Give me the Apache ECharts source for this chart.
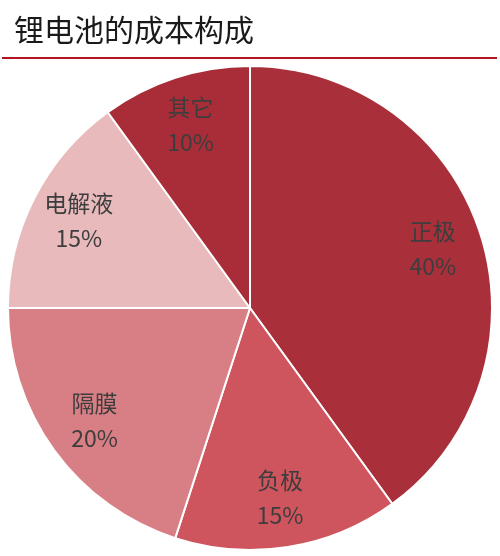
<!DOCTYPE html>
<html><head><meta charset="utf-8">
<script src="https://cdn.jsdelivr.net/npm/echarts@6/dist/echarts.min.js"></script>
<style>html,body{margin:0;padding:0;background:#fff}#c{width:500px;height:556px}</style>
</head><body><div id="c"></div>
<script>
const titleText = '锂电池的成本构成';
const categories = ['正极', '负极', '隔膜', '电解液', '其它'];
const values = [40, 15, 20, 15, 10];
const colors = ['#A9303A', '#CE545E', '#D87F85', '#E8BABC', '#A82D38'];

const CX = 250, CY = 308, R = 242;
const chart = echarts.init(document.getElementById('c'));
chart.setOption({
  backgroundColor: '#fff',
  animation: false,
  title: {
    text: titleText, left: 9, top: 10,
    textStyle: { fontFamily: 'Noto Sans CJK SC', fontSize: 30, fontWeight: 'normal', color: '#1a1a1a' }
  },
  graphic: [{
    type: 'line', shape: { x1: 2, y1: 58, x2: 497, y2: 58 },
    style: { stroke: '#B3141F', lineWidth: 2 }
  }],
  series: [{
    type: 'pie',
    center: [CX, CY],
    radius: R,
    startAngle: 90,
    clockwise: true,
    data: categories.map((n, i) => ({ name: n, value: values[i], itemStyle: { color: colors[i] } })),
    itemStyle: { borderColor: '#fff', borderWidth: 2 },
    label: {
      show: true, position: 'inside',
      formatter: p => p.name + '\n' + p.value + '%',
      fontFamily: 'Noto Sans CJK SC', fontSize: 23, lineHeight: 35, color: '#3d3d3d'
    },
    labelLine: { show: false },
    labelLayout: function (p) {
      const r = p.labelRect;
      const lx = r.x + r.width / 2, ly = r.y + r.height / 2;
      return { dx: (lx - CX) * 0.55, dy: (ly - CY) * 0.55 };
    },
    emphasis: { disabled: true }
  }]
});
</script></body></html>
